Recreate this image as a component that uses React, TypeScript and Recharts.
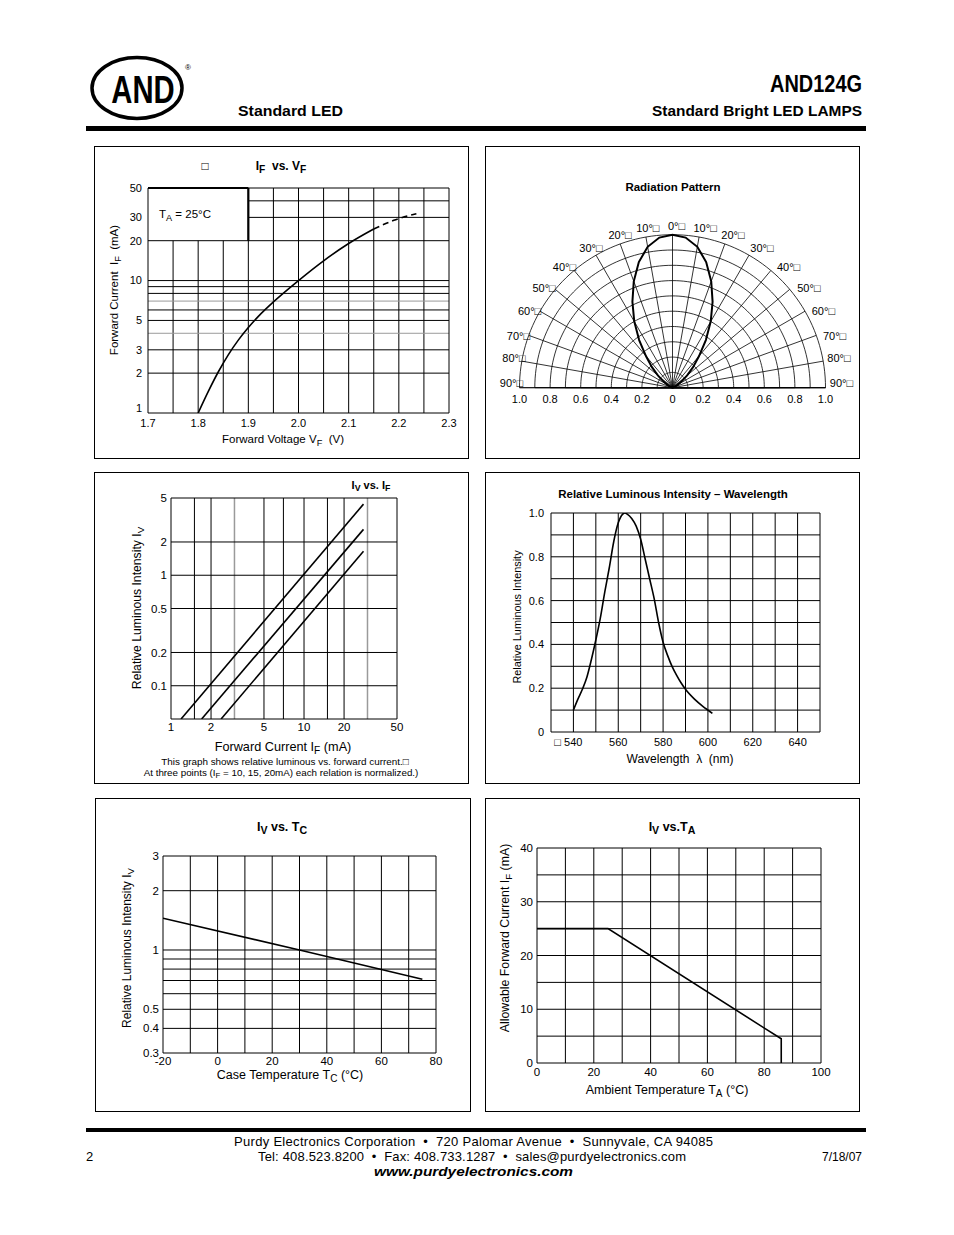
import React from 'react';
import {
  LineChart, Line, XAxis, YAxis, ReferenceLine,
  RadarChart, Radar, PolarGrid, PolarAngleAxis, PolarRadiusAxis,
} from 'recharts';

const FONT = '"Liberation Sans", Arial, Helvetica, sans-serif';
const INK = '#000';
const GRAY = '#9a9a9a';

// ---------- Chart 1 : IF vs VF ----------
const vfTicks = [1.7, 1.8, 1.9, 2.0, 2.1, 2.2, 2.3];
const ifTicks = [1, 2, 3, 5, 10, 20, 30, 50];
const vfGrid = [1.75, 1.8, 1.85, 1.9, 1.95, 2.0, 2.05, 2.1, 2.15, 2.2, 2.25];
const ifGridLow = [2, 3, 4, 5, 6, 7, 8, 9, 10, 20];
const ifGridHigh = [30, 40];
const ifGrayLines = [4, 7];
const ifvfSolid = [
  { x: 1.8, y: 1.0 }, { x: 1.82, y: 1.45 }, { x: 1.84, y: 2.04 }, { x: 1.86, y: 2.75 },
  { x: 1.88, y: 3.55 }, { x: 1.9, y: 4.42 }, { x: 1.92, y: 5.37 }, { x: 1.95, y: 6.9 },
  { x: 2.0, y: 10.0 }, { x: 2.05, y: 14.1 }, { x: 2.1, y: 19.05 }, { x: 2.15, y: 24.5 },
];
const ifvfDashed = [{ x: 2.15, y: 24.5 }, { x: 2.19, y: 28.5 }, { x: 2.235, y: 32 }];

// ---------- Chart 2 : Radiation pattern ----------
const lobe = [
  { angle: -90, r: 0 }, { angle: -80, r: 0.005 }, { angle: -70, r: 0.015 }, { angle: -60, r: 0.04 },
  { angle: -55, r: 0.075 }, { angle: -50, r: 0.125 }, { angle: -45, r: 0.19 }, { angle: -40, r: 0.27 },
  { angle: -35, r: 0.38 }, { angle: -30, r: 0.5 }, { angle: -25, r: 0.62 }, { angle: -20, r: 0.74 },
  { angle: -15, r: 0.85 }, { angle: -10, r: 0.935 }, { angle: -5, r: 0.985 }, { angle: 0, r: 1.0 },
  { angle: 5, r: 0.985 }, { angle: 10, r: 0.935 }, { angle: 15, r: 0.85 }, { angle: 20, r: 0.74 },
  { angle: 25, r: 0.62 }, { angle: 30, r: 0.5 }, { angle: 35, r: 0.38 }, { angle: 40, r: 0.27 },
  { angle: 45, r: 0.19 }, { angle: 50, r: 0.125 }, { angle: 55, r: 0.075 }, { angle: 60, r: 0.04 },
  { angle: 70, r: 0.015 }, { angle: 80, r: 0.005 }, { angle: 90, r: 0 },
];
const angleTicks = [-90, -80, -70, -60, -50, -40, -30, -20, -10, 0, 10, 20, 30, 40, 50, 60, 70, 80, 90];
const radTicks = [0, 0.2, 0.4, 0.6, 0.8, 1.0];
const ringValues = [0.1, 0.2, 0.3, 0.4, 0.5, 0.6, 0.7, 0.8, 0.9, 1.0];
const spokeAngles = [0, 10, 20, 30, 40, 50, 60, 70, 80, 90, 100, 110, 120, 130, 140, 150, 160, 170, 180];
const R_OUT = 153;
const R_CX = 187.5;
const R_CY = 241.7;
const arcAngles = Array.from({ length: 91 }, (_, i) => i * 2);
// label nudges (style only): outward x and downward y per |angle|
const labelDx: Record<number, number> = { 0: 0, 10: 0, 20: 0, 30: 3, 40: 6, 50: 6, 60: 4, 70: 3, 80: 0, 90: 0 };
const labelDy: Record<number, number> = { 0: 3, 10: 3, 20: 2, 30: 3, 40: 6, 50: 6, 60: 6, 70: 5, 80: -1, 90: -5 };

// ---------- Chart 3 : IV vs IF ----------
const if3Ticks = [1, 2, 5, 10, 20, 50];
const iv3Ticks = [0.1, 0.2, 0.5, 1, 2, 5];
const if3Grid = [1.5, 2, 5, 7, 10, 15, 20];
const if3GrayGrid = [3, 30];
const iv3Grid = [0.1, 0.2, 0.5, 1, 2];
const ivLineA = [{ x: 1.19, y: 0.05 }, { x: 28, y: 4.4 }];
const ivLineB = [{ x: 1.7, y: 0.05 }, { x: 28, y: 2.6 }];
const ivLineC = [{ x: 2.38, y: 0.05 }, { x: 28, y: 1.65 }];

// ---------- Chart 4 : Relative luminous intensity vs wavelength ----------
const wlTicks = [540, 560, 580, 600, 620, 640];
const relTicks = [0, 0.2, 0.4, 0.6, 0.8, 1.0];
const wlGrid = [540, 550, 560, 570, 580, 590, 600, 610, 620, 630, 640];
const relGrid = [0.1, 0.2, 0.3, 0.4, 0.5, 0.6, 0.7, 0.8, 0.9];
const spectrum = [
  { x: 540, y: 0.1 }, { x: 542, y: 0.15 }, { x: 544, y: 0.195 }, { x: 546, y: 0.25 },
  { x: 548, y: 0.33 }, { x: 550, y: 0.42 }, { x: 552, y: 0.52 }, { x: 554, y: 0.64 },
  { x: 556, y: 0.75 }, { x: 558, y: 0.87 }, { x: 560, y: 0.955 }, { x: 562, y: 0.995 },
  { x: 563, y: 1.0 }, { x: 564, y: 0.995 }, { x: 566, y: 0.975 }, { x: 568, y: 0.94 },
  { x: 570, y: 0.88 }, { x: 572, y: 0.79 }, { x: 574, y: 0.7 }, { x: 576, y: 0.61 },
  { x: 578, y: 0.5 }, { x: 580, y: 0.41 }, { x: 582, y: 0.35 }, { x: 584, y: 0.3 },
  { x: 586, y: 0.26 }, { x: 588, y: 0.225 }, { x: 590, y: 0.195 }, { x: 594, y: 0.15 },
  { x: 598, y: 0.115 }, { x: 600, y: 0.1 }, { x: 602, y: 0.085 },
];

// ---------- Chart 5 : IV vs TC ----------
const tcTicks = [-20, 0, 20, 40, 60, 80];
const iv5Ticks = [0.3, 0.4, 0.5, 1, 2, 3];
const tcGrid = [-10, 0, 10, 20, 30, 40, 50, 60, 70];
const iv5Grid = [0.4, 0.5, 0.6, 0.7, 0.8, 0.9, 1, 2];
const tcLine = [{ x: -20, y: 1.45 }, { x: 30, y: 1.0 }, { x: 75, y: 0.71 }];

// ---------- Chart 6 : IF vs TA (derating) ----------
const taTicks = [0, 20, 40, 60, 80, 100];
const if6Ticks = [0, 10, 20, 30, 40];
const taGrid = [10, 20, 30, 40, 50, 60, 70, 80, 90];
const if6Grid = [5, 10, 15, 20, 25, 30, 35];
const derating = [{ x: 0, y: 25 }, { x: 25, y: 25 }, { x: 86, y: 4.5 }, { x: 86, y: 0 }];

// ---------- helpers ----------
const tickStyle = { fontSize: 11, fill: INK, fontFamily: FONT };
const tickStyle12 = { fontSize: 11.5, fill: INK, fontFamily: FONT };

const S = ({ children, k = 0.8 }: { children: React.ReactNode; k?: number }) => (
  <span style={{ fontSize: `${k}em`, position: 'relative', top: '0.28em' }}>{children}</span>
);

const T = ({ x, y, size = 11, bold = false, italic = false, rot = 0, anchor = 'middle', children }: any) => {
  const tx = anchor === 'middle' ? '-50%' : anchor === 'end' ? '-100%' : '0';
  return (
    <div
      style={{
        position: 'absolute', left: x, top: y,
        transform: `translate(${tx},-50%)${rot ? ` rotate(${rot}deg)` : ''}`,
        fontSize: size, fontWeight: bold ? 700 : 400, fontStyle: italic ? 'italic' : 'normal',
        whiteSpace: 'pre', lineHeight: 1, fontFamily: FONT, color: INK,
      }}
    >
      {children}
    </div>
  );
};

const Panel = ({ x, y, w, h }: any) => (
  <div style={{ position: 'absolute', left: x, top: y, width: w, height: h, border: '1px solid #000', boxSizing: 'border-box' }} />
);

const vLines = (vals: number[], stroke = INK, sw = 1) =>
  vals.map((v) => <ReferenceLine key={'vx' + v + stroke} x={v} stroke={stroke} strokeWidth={sw} ifOverflow="visible" />);
const hLines = (vals: number[], stroke = INK, sw = 1) =>
  vals.map((v) => <ReferenceLine key={'hy' + v + stroke} y={v} stroke={stroke} strokeWidth={sw} ifOverflow="visible" />);

const AngleTick = (p: any) => {
  const v = p.payload.value;
  const a = Math.abs(v);
  const side = v < 0 ? -1 : v > 0 ? 1 : 0;
  return (
    <text x={p.x + 4 + side * (labelDx[a] || 0)} y={p.y + (labelDy[a] || 0)} textAnchor="middle" dominantBaseline="central"
      fontSize={11} fill={INK} fontFamily={FONT}>
      {`${a}°□`}
    </text>
  );
};

const RadTick = (p: any) => {
  const v = Number(p.payload.value);
  const label = v === 0 ? '0' : v.toFixed(1);
  const mirrorX = 2 * R_CX - p.x;
  return (
    <g>
      <text x={p.x} y={R_CY + 11} textAnchor="middle" dominantBaseline="central" fontSize={11} fill={INK} fontFamily={FONT}>{label}</text>
      {v !== 0 && (
        <text x={mirrorX} y={R_CY + 11} textAnchor="middle" dominantBaseline="central" fontSize={11} fill={INK} fontFamily={FONT}>{label}</text>
      )}
    </g>
  );
};

const IfTick = (p: any) => {
  const v = p.payload.value;
  return (
    <text x={p.x} y={p.y + (v === 1 ? -5 : 0)} dy="0.355em" textAnchor="end" fontSize={11} fill={INK} fontFamily={FONT}>{String(v)}</text>
  );
};

const WaveTick = (p: any) => {
  const v = p.payload.value;
  const first = v === 540;
  return (
    <text x={first ? p.x + 9 : p.x} y={p.y} dy="0.71em" textAnchor={first ? 'end' : 'middle'} fontSize={11} fill={INK} fontFamily={FONT}>
      {first ? '□ 540' : String(v)}
    </text>
  );
};

// ---------- charts ----------
const ChartIFVF = () => (
  <LineChart width={375} height={313} margin={{ top: 42, right: 20, bottom: 26, left: 24 }}>
    <XAxis type="number" dataKey="x" domain={[1.7, 2.3]} ticks={vfTicks} interval={0} allowDataOverflow
      tickFormatter={(v: number) => v.toFixed(1)} height={20} axisLine={false} tickLine={false} tickSize={4} tickMargin={2} tick={tickStyle} />
    <YAxis type="number" scale="log" domain={[1, 50]} ticks={ifTicks} interval={0} allowDataOverflow
      width={30} axisLine={false} tickLine={false} tickSize={4} tickMargin={2} tick={IfTick} />
    {vfGrid.map((v) =>
      v < 1.9 ? (
        <ReferenceLine key={'g1v' + v} segment={[{ x: v, y: 1 }, { x: v, y: 20 }]} stroke={INK} strokeWidth={1} ifOverflow="visible" />
      ) : (
        <ReferenceLine key={'g1v' + v} x={v} stroke={INK} strokeWidth={1} ifOverflow="visible" />
      )
    )}
    {ifGridLow.map((v) => (
      <ReferenceLine key={'g1h' + v} y={v} stroke={ifGrayLines.includes(v) ? GRAY : INK} strokeWidth={1} ifOverflow="visible" />
    ))}
    {ifGridHigh.map((v) => (
      <ReferenceLine key={'g1hh' + v} segment={[{ x: 1.9, y: v }, { x: 2.3, y: v }]} stroke={INK} strokeWidth={1} ifOverflow="visible" />
    ))}
    {vLines([1.7, 2.3])}
    {hLines([1, 50])}
    <ReferenceLine segment={[{ x: 1.9, y: 20 }, { x: 1.9, y: 50 }]} stroke={INK} strokeWidth={2.2} ifOverflow="visible" />
    <ReferenceLine segment={[{ x: 1.7, y: 50 }, { x: 1.9, y: 50 }]} stroke={INK} strokeWidth={2.2} ifOverflow="visible" />
    <Line data={ifvfSolid} dataKey="y" type="monotone" stroke={INK} strokeWidth={1.6} dot={false} isAnimationActive={false} />
    <Line data={ifvfDashed} dataKey="y" type="monotone" stroke={INK} strokeWidth={1.6} strokeDasharray="6 4" dot={false} isAnimationActive={false} />
  </LineChart>
);

const ChartRadiation = () => (
  <RadarChart width={375} height={313} cx={R_CX} cy={R_CY} outerRadius={R_OUT} startAngle={180} endAngle={0}
    data={lobe} margin={{ top: 0, right: 0, bottom: 0, left: 0 }}>
    <PolarGrid gridType="polygon" radialLines={false} polarAngles={arcAngles} polarRadius={ringValues.map((v) => v * R_OUT)}
      stroke={INK} strokeWidth={0.8} />
    <PolarGrid gridType="polygon" radialLines polarAngles={spokeAngles} polarRadius={[]} stroke={INK} strokeWidth={0.8} />
    <PolarAngleAxis dataKey="angle" type="number" domain={[-90, 90]} ticks={angleTicks} axisLine={false} tickLine={false}
      tickSize={12} tick={AngleTick} />
    <PolarRadiusAxis angle={0} type="number" domain={[0, 1]} ticks={radTicks} tickCount={6} axisLine={{ stroke: INK }} tickLine={false} tick={RadTick} />
    <Radar dataKey="r" stroke={INK} strokeWidth={2} fill="none" fillOpacity={0} dot={false} isAnimationActive={false} />
  </RadarChart>
);

const ChartIVIF = () => (
  <LineChart width={375} height={312} margin={{ top: 26, right: 72, bottom: 45, left: 37 }}>
    <XAxis type="number" dataKey="x" scale="log" domain={[1, 50]} ticks={if3Ticks} interval={0} allowDataOverflow
      height={20} axisLine={false} tickLine={false} tickSize={2} tickMargin={2} tick={tickStyle12} />
    <YAxis type="number" scale="log" domain={[0.05, 5]} ticks={iv3Ticks} interval={0} allowDataOverflow
      width={40} axisLine={false} tickLine={false} tickSize={2} tickMargin={2} tick={tickStyle12} />
    {vLines(if3Grid)}
    {vLines(if3GrayGrid, GRAY, 1.5)}
    {hLines(iv3Grid)}
    {vLines([1, 50])}
    {hLines([0.05, 5])}
    <Line data={ivLineA} dataKey="y" stroke={INK} strokeWidth={1.6} dot={false} isAnimationActive={false} />
    <Line data={ivLineB} dataKey="y" stroke={INK} strokeWidth={1.6} dot={false} isAnimationActive={false} />
    <Line data={ivLineC} dataKey="y" stroke={INK} strokeWidth={1.6} dot={false} isAnimationActive={false} />
  </LineChart>
);

const ChartWave = () => (
  <LineChart width={375} height={312} margin={{ top: 41, right: 40, bottom: 32, left: 36 }}>
    <XAxis type="number" dataKey="x" domain={[530, 650]} ticks={wlTicks} interval={0} allowDataOverflow
      height={20} axisLine={false} tickLine={false} tickSize={4} tickMargin={2} tick={WaveTick} />
    <YAxis type="number" domain={[0, 1]} ticks={relTicks} interval={0} allowDataOverflow
      tickFormatter={(v: number) => (v === 0 ? '0' : v.toFixed(1))}
      width={30} axisLine={false} tickLine={false} tickSize={5} tickMargin={2} tick={tickStyle} />
    {vLines(wlGrid)}
    {hLines(relGrid)}
    {vLines([530, 650])}
    {hLines([0, 1])}
    <Line data={spectrum} dataKey="y" type="monotone" stroke={INK} strokeWidth={1.6} dot={false} isAnimationActive={false} />
  </LineChart>
);

const ChartIVTC = () => (
  <LineChart width={376} height={314} margin={{ top: 58, right: 35, bottom: 39, left: 33 }}>
    <XAxis type="number" dataKey="x" domain={[-20, 80]} ticks={tcTicks} interval={0} allowDataOverflow
      height={20} axisLine={false} tickLine={false} tickSize={2} tickMargin={2} tick={tickStyle12} />
    <YAxis type="number" scale="log" domain={[0.3, 3]} ticks={iv5Ticks} interval={0} allowDataOverflow
      width={35} axisLine={false} tickLine={false} tickSize={2} tickMargin={2} tick={tickStyle12} />
    {vLines(tcGrid)}
    {hLines(iv5Grid)}
    {vLines([-20, 80])}
    {hLines([0.3, 3])}
    <Line data={tcLine} dataKey="y" stroke={INK} strokeWidth={1.6} dot={false} isAnimationActive={false} />
  </LineChart>
);

const ChartIFTA = () => (
  <LineChart width={375} height={314} margin={{ top: 50, right: 39, bottom: 29, left: 27 }}>
    <XAxis type="number" dataKey="x" domain={[0, 100]} ticks={taTicks} interval={0} allowDataOverflow
      height={20} axisLine={false} tickLine={false} tickSize={3} tickMargin={2} tick={tickStyle12} />
    <YAxis type="number" domain={[0, 40]} ticks={if6Ticks} interval={0} allowDataOverflow
      width={25} axisLine={false} tickLine={false} tickSize={2} tickMargin={2} tick={tickStyle12} />
    {vLines(taGrid)}
    {hLines(if6Grid)}
    {vLines([0, 100])}
    {hLines([0, 40])}
    <Line data={derating} dataKey="y" stroke={INK} strokeWidth={1.6} dot={false} isAnimationActive={false} />
  </LineChart>
);

const Abs = ({ x, y, children }: any) => <div style={{ position: 'absolute', left: x, top: y }}>{children}</div>;

export default function App() {
  return (
    <div style={{ position: 'absolute', left: 0, top: 0, width: 954, height: 1235, background: '#fff', fontFamily: FONT, overflow: 'hidden' }}>
      {/* header / footer decorations */}
      <svg width={954} height={1235} style={{ position: 'absolute', left: 0, top: 0 }}>
        <ellipse cx={137} cy={88} rx={45} ry={30.5} fill="none" stroke={INK} strokeWidth={3.5} />
        <text transform="translate(143,103) scale(0.75,1)" textAnchor="middle" fontSize={39} fontWeight={700} fontFamily={FONT}>AND</text>
        <text x={188} y={70} textAnchor="middle" fontSize={8} fontFamily={FONT}>®</text>
        <text x={862} y={92} textAnchor="end" fontSize={24} fontWeight={700} fontFamily={FONT} textLength={92} lengthAdjust="spacingAndGlyphs">AND124G</text>
        <text x={238} y={116} fontSize={15} fontWeight={700} fontFamily={FONT} textLength={105} lengthAdjust="spacingAndGlyphs">Standard LED</text>
        <text x={862} y={116} textAnchor="end" fontSize={15} fontWeight={700} fontFamily={FONT} textLength={210} lengthAdjust="spacingAndGlyphs">Standard Bright LED LAMPS</text>
        <rect x={86} y={126} width={780} height={5} fill={INK} />
        <rect x={86} y={1128} width={780} height={4} fill={INK} />
        <text x={473.5} y={1146} textAnchor="middle" fontSize={13} fontFamily={FONT} textLength={479} lengthAdjust="spacing" style={{ whiteSpace: 'pre' }}>
          {'Purdy Electronics Corporation  •  720 Palomar Avenue  •  Sunnyvale, CA 94085'}
        </text>
        <text x={472} y={1161} textAnchor="middle" fontSize={13} fontFamily={FONT} textLength={428} lengthAdjust="spacing" style={{ whiteSpace: 'pre' }}>
          {'Tel: 408.523.8200  •  Fax: 408.733.1287  •  sales@purdyelectronics.com'}
        </text>
        <text x={473.5} y={1176} textAnchor="middle" fontSize={13} fontWeight={700} fontStyle="italic" fontFamily={FONT} textLength={199} lengthAdjust="spacingAndGlyphs">www.purdyelectronics.com</text>
        <text x={86} y={1161} fontSize={13} fontFamily={FONT}>2</text>
        <text x={862} y={1161} textAnchor="end" fontSize={12} fontFamily={FONT}>7/18/07</text>
      </svg>

      <Panel x={94} y={146} w={375} h={313} />
      <Panel x={485} y={146} w={375} h={313} />
      <Panel x={94} y={472} w={375} h={312} />
      <Panel x={485} y={472} w={375} h={312} />
      <Panel x={95} y={798} w={376} h={314} />
      <Panel x={485} y={798} w={375} h={314} />

      <Abs x={94} y={146}><ChartIFVF /></Abs>
      <Abs x={485} y={146}><ChartRadiation /></Abs>
      <Abs x={94} y={472}><ChartIVIF /></Abs>
      <Abs x={485} y={472}><ChartWave /></Abs>
      <Abs x={95} y={798}><ChartIVTC /></Abs>
      <Abs x={485} y={798}><ChartIFTA /></Abs>

      {/* chart 1 texts */}
      <T x={205} y={166} size={12}>□</T>
      <T x={281} y={166} size={12} bold>I<S k={0.85}>F</S>  vs. V<S k={0.85}>F</S></T>
      <T x={185} y={215} size={11.5}>T<S>A</S> = 25°C</T>
      <T x={283} y={440} size={11.5}>Forward Voltage V<S>F</S>  (V)</T>
      <T x={115} y={290} rot={-90} size={11.5}>Forward Current  I<S>F</S>  (mA)</T>

      {/* chart 2 texts */}
      <T x={673} y={188} size={11.5} bold>Radiation Pattern</T>

      {/* chart 3 texts */}
      <T x={371} y={485} bold>I<S>V</S> vs. I<S>F</S></T>
      <T x={137} y={608} rot={-90} size={12.2}>Relative Luminous Intensity I<S>V</S></T>
      <T x={283} y={747} size={12.7}>Forward Current I<S>F</S> (mA)</T>
      <T x={285} y={762} size={9.9}>This graph shows relative luminous vs. forward current.□</T>
      <T x={281} y={773} size={9.8}>At three points (I<S>F</S> = 10, 15, 20mA) each relation is normalized.)</T>

      {/* chart 4 texts */}
      <T x={673} y={495} size={11.5} bold>Relative Luminous Intensity – Wavelength</T>
      <T x={517} y={617} rot={-90} size={10.9}>Relative Luminous Intensity</T>
      <T x={680} y={759} size={12}>Wavelength  λ  (nm)</T>

      {/* chart 5 texts */}
      <T x={282} y={827} size={12.5} bold>I<S k={0.85}>V</S> vs. T<S k={0.85}>C</S></T>
      <T x={127} y={948} rot={-90} size={12}>Relative Luminous Intensity I<S>V</S></T>
      <T x={290} y={1075} size={12.5}>Case Temperature T<S>C</S> (°C)</T>

      {/* chart 6 texts */}
      <T x={672} y={827} size={12.5} bold>I<S k={0.85}>V</S> vs.T<S k={0.85}>A</S></T>
      <T x={505} y={938} rot={-90} size={12.3}>Allowable Forward Current I<S>F</S> (mA)</T>
      <T x={667} y={1090} size={12.5}>Ambient Temperature T<S>A</S> (°C)</T>
    </div>
  );
}
